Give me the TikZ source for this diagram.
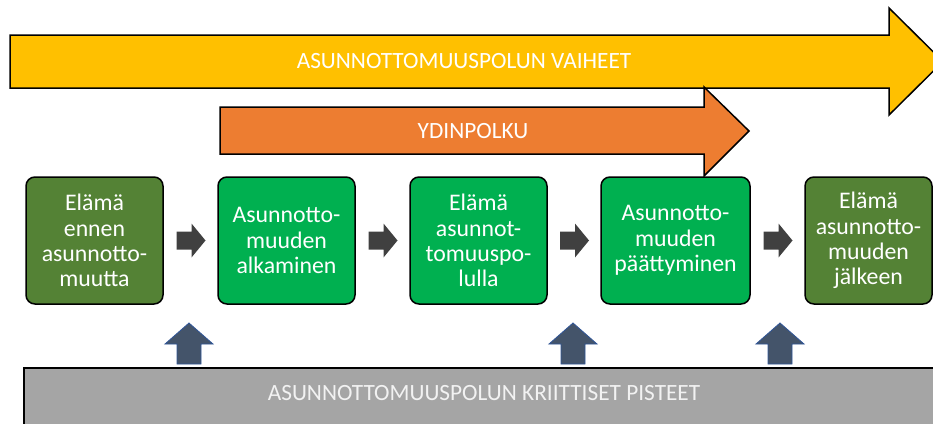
\documentclass[tikz,border=0pt]{standalone}
\usepackage{fontspec}
\setmainfont{Carlito}
\usetikzlibrary{calc}
\definecolor{phaseyellow}{HTML}{FFC000}
\definecolor{coreorange}{HTML}{ED7D31}
\definecolor{lifegreen}{HTML}{548235}
\definecolor{pathgreen}{HTML}{00B050}
\definecolor{stepgray}{HTML}{404040}
\definecolor{critgray}{HTML}{A5A5A5}
\definecolor{pointslate}{HTML}{44546A}
\definecolor{pointblue}{HTML}{2F5597}

\begin{document}
\begin{tikzpicture}[x=1pt,y=-1pt,
    stage/.style={draw=black,line width=1.5pt,rounded corners=9pt,text=white,
      align=center,minimum height=127pt,inner sep=0pt,
      font=\fontsize{23.8}{25.3}\selectfont},
    life/.style={stage,fill=lifegreen},
    homeless/.style={stage,fill=pathgreen},
    bartext/.style={text=white,font=\fontsize{23.3}{26}\selectfont}]
  \useasboundingbox (0,0) rectangle (933,423);
  % Big arrows first
  \draw[fill=phaseyellow,line width=1.5pt,line join=miter]
    (10,35) -- (889,35) -- (889,8) -- (943,61.5) -- (889,115) -- (889,88) -- (10,88) -- cycle;
  \node[bartext] (phases) at (464,61) {ASUNNOTTOMUUSPOLUN VAIHEET};
  \draw[fill=coreorange,line width=1.5pt,line join=miter]
    (220,107) -- (704,107) -- (704,87) -- (749,131) -- (704,176) -- (704,154) -- (220,154) -- cycle;
  \node[bartext] (core) at (473,131) {YDINPOLKU};
  % Stages
  \node[life,minimum width=137pt] (b1) at (94.5,240.5) {Elämä\\ennen\\asunnotto-\\muutta};
  \node[homeless,minimum width=137pt] (b2) at (286.5,240.5) {Asunnotto-\\muuden\\alkaminen};
  \node[homeless,minimum width=137pt] (b3) at (478.5,240.5) {Elämä\\asunnot-\\tomuuspo-\\lulla};
  \node[homeless,minimum width=149pt] (b4) at (675.5,240.5) {Asunnotto-\\muuden\\päättyminen};
  \node[life,minimum width=127pt] (b5) at (868.5,240.5) {Elämä\\asunnotto-\\muuden\\jälkeen};
  \foreach \a/\b in {b1/b2,b2/b3,b3/b4,b4/b5}
    \fill[stepgray] ($(\a.east)!.5!(\b.west)$) ++(-14,-9) -- ++(15,0) -- ++(0,-8)
      -- ++(14,17) -- ++(-14,17) -- ++(0,-8) -- ++(-15,0) -- cycle;
  % Critical points
  \draw[fill=critgray,line width=1.5pt] (24,368) rectangle (950,430);
  \node[bartext,text=white!95!black] (crit) at (484,393) {ASUNNOTTOMUUSPOLUN KRIITTISET PISTEET};
  \foreach \x in {189,573,780}
    \draw[fill=pointslate,draw=pointblue,line width=0.8pt]
      (\x,323) -- (\x+24,344) -- (\x+12,344) -- (\x+12,364) -- (\x-12,364)
      -- (\x-12,344) -- (\x-24,344) -- cycle;
\end{tikzpicture}
\end{document}
